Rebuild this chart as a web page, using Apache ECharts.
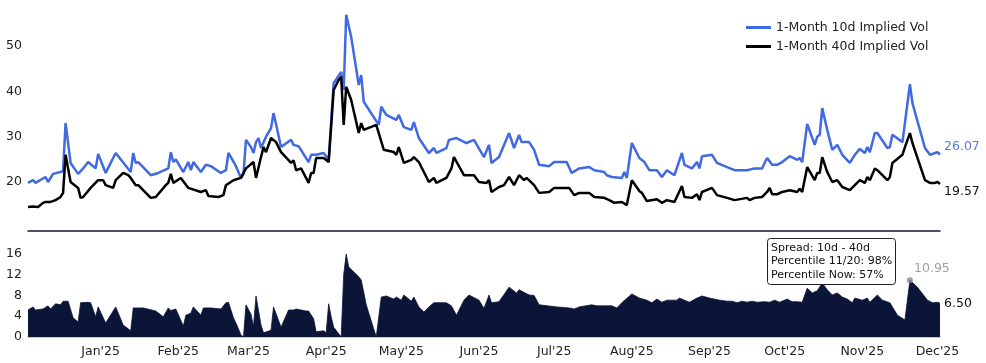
<!DOCTYPE html>
<html>
<head>
<meta charset="utf-8">
<script src="https://cdn.jsdelivr.net/npm/echarts@6/dist/echarts.min.js"></script>
<style>
html,body{margin:0;padding:0;background:#fff;}
#c{width:986px;height:363px;}
</style>
</head>
<body>
<div id="c"></div>
<script>
// ---------------- DATA ----------------
const name10 = '1-Month 10d Implied Vol';
const name40 = '1-Month 40d Implied Vol';

const iv10Dates = ['2024-12-03','2024-12-05','2024-12-06','2024-12-10','2024-12-11','2024-12-13','2024-12-16','2024-12-17','2024-12-18','2024-12-20','2024-12-23','2024-12-25','2024-12-27','2024-12-30','2024-12-31',
'2025-01-03','2025-01-07','2025-01-13','2025-01-14','2025-01-15','2025-01-16','2025-01-21','2025-01-24','2025-01-28','2025-01-29','2025-01-30','2025-01-31',
'2025-02-03','2025-02-05','2025-02-06','2025-02-07','2025-02-10','2025-02-12','2025-02-14','2025-02-18','2025-02-20','2025-02-21','2025-02-24','2025-02-26','2025-02-27','2025-02-28',
'2025-03-02','2025-03-03','2025-03-04','2025-03-05','2025-03-06','2025-03-08','2025-03-10','2025-03-11','2025-03-14','2025-03-18','2025-03-19','2025-03-21','2025-03-25','2025-03-26','2025-03-28','2025-03-31',
'2025-04-02','2025-04-04','2025-04-07','2025-04-08','2025-04-09','2025-04-11','2025-04-14','2025-04-15','2025-04-16','2025-04-22','2025-04-23','2025-04-25','2025-04-29','2025-04-30',
'2025-05-02','2025-05-05','2025-05-06','2025-05-08','2025-05-12','2025-05-14','2025-05-15','2025-05-19','2025-05-20','2025-05-23','2025-05-27','2025-05-30',
'2025-06-03','2025-06-05','2025-06-06','2025-06-09','2025-06-13','2025-06-15','2025-06-17','2025-06-18','2025-06-21','2025-06-23','2025-06-25','2025-06-29',
'2025-07-01','2025-07-06','2025-07-08','2025-07-11','2025-07-15','2025-07-17','2025-07-21','2025-07-22','2025-07-24','2025-07-28','2025-07-29','2025-07-30',
'2025-08-01','2025-08-04','2025-08-06','2025-08-08','2025-08-11','2025-08-13','2025-08-15','2025-08-18','2025-08-21','2025-08-22','2025-08-25','2025-08-27','2025-08-28','2025-08-29',
'2025-09-02','2025-09-04','2025-09-08','2025-09-11','2025-09-16','2025-09-19','2025-09-22','2025-09-23','2025-09-24','2025-09-26','2025-09-28','2025-09-30',
'2025-10-03','2025-10-06','2025-10-07','2025-10-08','2025-10-10','2025-10-13','2025-10-14','2025-10-15','2025-10-16','2025-10-18','2025-10-20','2025-10-22','2025-10-24','2025-10-27','2025-10-29','2025-10-31',
'2025-11-02','2025-11-03','2025-11-04','2025-11-06','2025-11-07','2025-11-11','2025-11-12','2025-11-13','2025-11-17','2025-11-20','2025-11-21','2025-11-26','2025-11-28','2025-11-30',
'2025-12-01','2025-12-02'];
const iv10Values = [19.8,20.4,19.8,21.1,20.0,21.8,22.2,22.4,33.0,24.2,21.8,23.0,24.4,23.0,26.2,
22.0,26.4,22.2,26.4,24.2,24.4,21.5,22.0,23.0,26.6,24.4,25.0,
22.2,24.4,22.6,24.4,22.2,23.8,23.5,22.0,22.6,26.4,23.5,20.9,21.8,29.3,
27.7,26.4,28.8,29.7,27.5,30.0,31.9,35.2,27.7,29.3,28.2,27.9,24.4,26.0,26.0,26.4,
24.9,41.8,44.3,40.3,56.9,52.0,41.4,43.6,37.7,32.6,36.6,34.8,33.7,34.8,
32.1,31.5,33.2,29.7,26.4,27.5,26.4,27.5,29.3,29.7,28.6,29.3,
25.5,28.2,24.2,25.5,30.8,27.5,30.4,28.8,28.8,27.1,23.8,23.5,
24.4,24.4,22.0,23.0,23.3,22.6,22.2,21.5,21.1,20.9,22.2,20.9,
28.6,25.3,24.4,22.6,22.6,21.1,22.6,21.5,26.4,23.8,23.0,24.4,23.0,25.7,
26.0,24.2,23.3,22.6,22.6,23.0,23.0,24.2,25.3,23.8,23.8,24.4,
25.7,24.9,25.3,24.4,32.8,28.2,30.0,30.4,36.3,31.5,27.1,28.2,26.0,24.2,26.0,27.3,
26.4,27.7,26.6,30.8,30.8,27.5,27.7,30.4,28.8,41.6,37.4,27.5,26.0,26.4,
26.6,26.07];

const iv40Dates = ['2024-12-03','2024-12-05','2024-12-07','2024-12-09','2024-12-10','2024-12-12','2024-12-14','2024-12-16','2024-12-17','2024-12-18','2024-12-20','2024-12-23','2024-12-24','2024-12-25','2024-12-28','2024-12-31',
'2025-01-02','2025-01-03','2025-01-06','2025-01-07','2025-01-10','2025-01-12','2025-01-13','2025-01-15','2025-01-16','2025-01-21','2025-01-23','2025-01-27','2025-01-28','2025-01-29','2025-01-30',
'2025-02-02','2025-02-05','2025-02-10','2025-02-12','2025-02-13','2025-02-17','2025-02-19','2025-02-20','2025-02-23','2025-02-26','2025-02-28',
'2025-03-03','2025-03-04','2025-03-06','2025-03-07','2025-03-08','2025-03-10','2025-03-12','2025-03-14','2025-03-18','2025-03-19','2025-03-20','2025-03-22','2025-03-25','2025-03-26','2025-03-27','2025-03-28','2025-03-31',
'2025-04-02','2025-04-04','2025-04-06','2025-04-07','2025-04-08','2025-04-09','2025-04-11','2025-04-14','2025-04-15','2025-04-16','2025-04-21','2025-04-24','2025-04-28','2025-04-29','2025-04-30',
'2025-05-02','2025-05-05','2025-05-06','2025-05-08','2025-05-12','2025-05-14','2025-05-15','2025-05-19','2025-05-21','2025-05-22','2025-05-26','2025-05-30',
'2025-06-01','2025-06-04','2025-06-05','2025-06-06','2025-06-09','2025-06-11','2025-06-13','2025-06-15','2025-06-17','2025-06-19','2025-06-20','2025-06-23','2025-06-25','2025-06-29',
'2025-07-01','2025-07-07','2025-07-09','2025-07-11','2025-07-15','2025-07-17','2025-07-21','2025-07-23','2025-07-25','2025-07-28','2025-07-30',
'2025-08-01','2025-08-04','2025-08-05','2025-08-07','2025-08-11','2025-08-13','2025-08-15','2025-08-18','2025-08-21','2025-08-22','2025-08-25','2025-08-27','2025-08-28','2025-08-29',
'2025-09-02','2025-09-04','2025-09-08','2025-09-11','2025-09-16','2025-09-17','2025-09-19','2025-09-22','2025-09-24','2025-09-25','2025-09-26','2025-09-28','2025-09-30',
'2025-10-03','2025-10-06','2025-10-07','2025-10-08','2025-10-10','2025-10-13','2025-10-14','2025-10-15','2025-10-16','2025-10-18','2025-10-20','2025-10-22','2025-10-24','2025-10-27','2025-10-29','2025-10-31',
'2025-11-02','2025-11-03','2025-11-04','2025-11-06','2025-11-07','2025-11-11','2025-11-12','2025-11-13','2025-11-17','2025-11-18','2025-11-20','2025-11-21','2025-11-26','2025-11-28','2025-11-30',
'2025-12-01','2025-12-02'];
const iv40Values = [14.5,14.6,14.5,15.4,15.6,15.6,16.0,16.7,17.6,26.0,20.0,18.7,16.5,16.7,18.7,20.4,
20.4,19.3,18.7,20.4,22.0,21.5,20.9,19.3,19.3,16.5,16.7,19.3,19.8,21.8,19.8,
20.9,18.7,17.8,18.2,16.9,16.7,17.1,19.3,20.4,20.9,23.0,
24.4,20.9,25.5,27.7,26.6,29.7,28.8,26.6,24.2,24.8,22.6,23.0,19.8,22.0,22.0,25.3,25.3,
24.4,40.3,42.5,43.2,32.6,41.0,38.1,30.8,33.0,31.5,32.6,27.1,26.6,26.0,27.7,
24.2,24.9,25.5,24.4,20.0,20.9,19.8,20.9,23.0,25.5,21.5,21.5,
20.0,19.8,20.4,17.8,18.9,19.3,21.1,19.3,21.5,20.4,20.9,19.3,17.6,17.8,
18.7,18.7,17.1,17.6,17.6,16.7,16.5,16.0,15.4,15.6,14.9,
20.4,18.0,17.6,15.8,16.2,15.4,16.0,15.6,19.1,16.7,16.5,17.3,16.0,17.8,
18.7,17.1,16.5,16.0,16.5,16.0,16.5,16.7,17.8,18.7,17.3,17.3,17.8,
18.2,17.8,18.5,17.8,23.3,20.4,22.0,22.0,25.5,22.2,20.0,20.4,18.9,18.2,19.3,20.4,
19.8,21.1,20.4,23.0,22.6,20.4,21.1,24.2,26.0,27.7,30.8,28.6,20.4,19.8,19.8,
20.0,19.57];

const spreadDates = ['2024-12-03','2024-12-05','2024-12-06','2024-12-09','2024-12-11','2024-12-12','2024-12-14','2024-12-16','2024-12-17','2024-12-19','2024-12-21','2024-12-23','2024-12-24','2024-12-27','2024-12-28','2024-12-30','2024-12-31',
'2025-01-03','2025-01-07','2025-01-10','2025-01-13','2025-01-14','2025-01-18','2025-01-23','2025-01-26','2025-01-28','2025-01-29','2025-01-31',
'2025-02-03','2025-02-04','2025-02-06','2025-02-07','2025-02-10','2025-02-11','2025-02-14','2025-02-18','2025-02-20','2025-02-21','2025-02-23','2025-02-24','2025-02-26','2025-02-27','2025-02-28',
'2025-03-02','2025-03-03','2025-03-04','2025-03-06','2025-03-07','2025-03-10','2025-03-11','2025-03-14','2025-03-17','2025-03-19','2025-03-20','2025-03-24','2025-03-25','2025-03-27','2025-03-28','2025-03-31',
'2025-04-01','2025-04-02','2025-04-03','2025-04-04','2025-04-07','2025-04-08','2025-04-09','2025-04-10','2025-04-14','2025-04-15','2025-04-17','2025-04-21','2025-04-23','2025-04-25','2025-04-28','2025-04-29',
'2025-05-01','2025-05-02','2025-05-05','2025-05-06','2025-05-08','2025-05-10','2025-05-12','2025-05-14','2025-05-19','2025-05-21','2025-05-23','2025-05-26','2025-05-28',
'2025-06-01','2025-06-03','2025-06-05','2025-06-06','2025-06-09','2025-06-13','2025-06-16','2025-06-17','2025-06-21','2025-06-23','2025-06-25',
'2025-07-02','2025-07-07','2025-07-09','2025-07-11','2025-07-16','2025-07-18','2025-07-22','2025-07-24','2025-07-26','2025-07-28',
'2025-08-01','2025-08-04','2025-08-07','2025-08-09','2025-08-11','2025-08-13','2025-08-15','2025-08-19','2025-08-20','2025-08-22','2025-08-24','2025-08-27','2025-08-29',
'2025-09-01','2025-09-05','2025-09-08','2025-09-10','2025-09-12','2025-09-14','2025-09-16','2025-09-18','2025-09-20','2025-09-23','2025-09-25','2025-09-27','2025-09-29',
'2025-10-02','2025-10-04','2025-10-06','2025-10-08','2025-10-10','2025-10-12','2025-10-14','2025-10-16','2025-10-18','2025-10-20','2025-10-22','2025-10-24','2025-10-26','2025-10-28','2025-10-29',
'2025-11-01','2025-11-03','2025-11-04','2025-11-07','2025-11-09','2025-11-12','2025-11-15','2025-11-18','2025-11-20','2025-11-23','2025-11-27','2025-11-29',
'2025-12-01','2025-12-02'];
const spreadValues = [5.2,5.8,5.2,5.4,6.0,5.4,6.4,6.2,6.9,6.9,3.7,2.9,6.6,6.7,6.6,3.9,5.8,
2.7,5.8,2.3,1.2,5.6,5.6,5.0,3.9,5.6,5.1,5.4,
2.1,4.2,4.6,5.8,4.2,5.6,5.6,5.4,6.6,6.7,3.7,2.7,0.4,0,6.2,
4.4,2.0,7.9,2.3,0.8,1.3,5.8,1.9,5.2,5.2,5.4,5.0,5.0,3.5,1.0,1.2,
0.8,6.4,3.9,1.9,0,12.0,16.0,13.5,11.6,11.0,6.2,0,7.7,7.9,7.3,7.7,
7.1,8.1,6.9,7.7,5.8,4.8,5.8,6.6,6.6,6.0,4.2,7.1,8.1,
7.1,5.5,8.1,6.6,6.8,9.6,8.5,9.1,8.1,8.0,6.2,
5.8,5.6,5.4,5.8,6.2,6.0,6.0,6.0,5.6,6.6,
8.3,7.5,7.1,6.6,7.3,6.7,7.1,7.1,7.5,7.1,6.7,7.5,7.9,
7.5,7.1,6.9,6.9,6.6,6.9,6.7,6.9,6.7,6.8,6.7,7.1,6.7,
7.3,6.8,6.8,6.7,9.4,8.5,8.9,10.4,9.1,8.1,8.5,7.7,7.3,6.6,7.5,
7.1,7.5,6.7,8.1,7.1,6.6,4.2,3.3,10.95,9.6,7.1,6.6,
6.7,6.5];

const highlightDate = '2025-11-20';
const highlightValue = 10.95;

const xStart = '2024-12-03';
const xEnd = '2025-12-02';

const topYTicks = [20, 30, 40, 50];
const tickDates = ['2025-01-01','2025-02-01','2025-03-01','2025-04-01','2025-05-01','2025-06-01','2025-07-01','2025-08-01','2025-09-01','2025-10-01','2025-11-01','2025-12-01'];
const tickLabels = ["Jan'25","Feb'25","Mar'25","Apr'25","May'25","Jun'25","Jul'25","Aug'25","Sep'25","Oct'25","Nov'25","Dec'25"];

const noteText = 'Spread: 10d - 40d\nPercentile 11/20: 98%\nPercentile Now: 57%';

// ---------------- BUILD ----------------
function ts(s){ const p = s.split('-').map(Number); return Date.UTC(p[0], p[1]-1, p[2]); }
function zip(d, v){ return d.map((x,i)=>[ts(x), v[i]]); }
const tickTs = tickDates.map(ts);

const FONT = 'DejaVu Sans';
const chart = echarts.init(document.getElementById('c'), null, {renderer:'canvas'});

const option = {
  animation: false,
  backgroundColor: '#ffffff',
  textStyle: {fontFamily: FONT},
  title: {
    text: noteText,
    left: 767, top: 238,
    padding: [3, 4, 3, 4],
    borderColor: '#222', borderWidth: 1, borderRadius: 3,
    backgroundColor: '#fff',
    textStyle: {fontFamily: FONT, fontSize: 11, fontWeight: 'normal', color: '#111', lineHeight: 13.5}
  },
  legend: {
    orient: 'vertical',
    left: 741, top: 15,
    itemWidth: 25, itemHeight: 3, itemGap: 4,
    icon: 'rect',
    textStyle: {fontFamily: FONT, fontSize: 12.5, color: '#222', lineHeight: 15},
    data: [name10, name40]
  },
  grid: [
    {left: 28, right: 46, top: 5, height: 226},
    {left: 28, right: 46, top: 243.6, bottom: 26}
  ],
  xAxis: [
    {type: 'value', gridIndex: 0, min: ts(xStart), max: ts(xEnd),
     axisLine: {show: true, lineStyle: {color: '#0b1538', width: 1.5}},
     axisTick: {show: false}, axisLabel: {show: false}, splitLine: {show: false}},
    {type: 'value', gridIndex: 1, min: ts(xStart), max: ts(xEnd),
     axisLine: {show: true, lineStyle: {color: '#b4b9c6', width: 1.5}},
     axisTick: {show: false}, splitLine: {show: false},
     axisLabel: {show: true, customValues: tickTs, margin: 8,
       fontFamily: FONT, fontSize: 12.5, color: '#222',
       formatter: function(v){ const i = tickTs.indexOf(v); return i >= 0 ? tickLabels[i] : ''; }}}
  ],
  yAxis: [
    {type: 'value', gridIndex: 0, min: 9.19, max: 59.05,
     axisLine: {show: false}, axisTick: {show: false}, splitLine: {show: false},
     axisLabel: {customValues: topYTicks, fontFamily: FONT, fontSize: 12.5, color: '#222', margin: 6}},
    {type: 'value', gridIndex: 1, min: 0, max: 18, interval: 4,
     axisLine: {show: false}, axisTick: {show: false}, splitLine: {show: false},
     axisLabel: {fontFamily: FONT, fontSize: 12.5, color: '#222', margin: 6}}
  ],
  series: [
    {name: name10, type: 'line', xAxisIndex: 0, yAxisIndex: 0, data: zip(iv10Dates, iv10Values),
     symbol: 'none', color: '#4169E1', lineStyle: {color: '#4169E1', width: 2.5},
     endLabel: {show: true, distance: 4, offset: [0, -8], formatter: p => p.value[1].toFixed(2),
       fontFamily: FONT, fontSize: 12.5, color: '#5a7ae0'}},
    {name: name40, type: 'line', xAxisIndex: 0, yAxisIndex: 0, data: zip(iv40Dates, iv40Values),
     symbol: 'none', color: '#000', lineStyle: {color: '#000', width: 2.5},
     endLabel: {show: true, distance: 4, offset: [0, 8], formatter: p => p.value[1].toFixed(2),
       fontFamily: FONT, fontSize: 12.5, color: '#111'}},
    {name: 'Spread', type: 'line', xAxisIndex: 1, yAxisIndex: 1, data: zip(spreadDates, spreadValues),
     symbol: 'none', lineStyle: {color: '#0b1538', width: 0.8},
     areaStyle: {color: '#0b1538', opacity: 1},
     endLabel: {show: true, distance: 4, formatter: p => p.value[1].toFixed(2),
       fontFamily: FONT, fontSize: 12.5, color: '#111'}},
    {name: 'Peak', type: 'scatter', xAxisIndex: 1, yAxisIndex: 1,
     data: [[ts(highlightDate), highlightValue]],
     symbol: 'circle', symbolSize: 6, itemStyle: {color: '#888'}, z: 5,
     label: {show: true, position: 'top', offset: [22, 3], formatter: p => p.value[1].toFixed(2),
       fontFamily: FONT, fontSize: 12.5, color: '#888'}}
  ]
};
chart.setOption(option);
</script>
</body>
</html>
